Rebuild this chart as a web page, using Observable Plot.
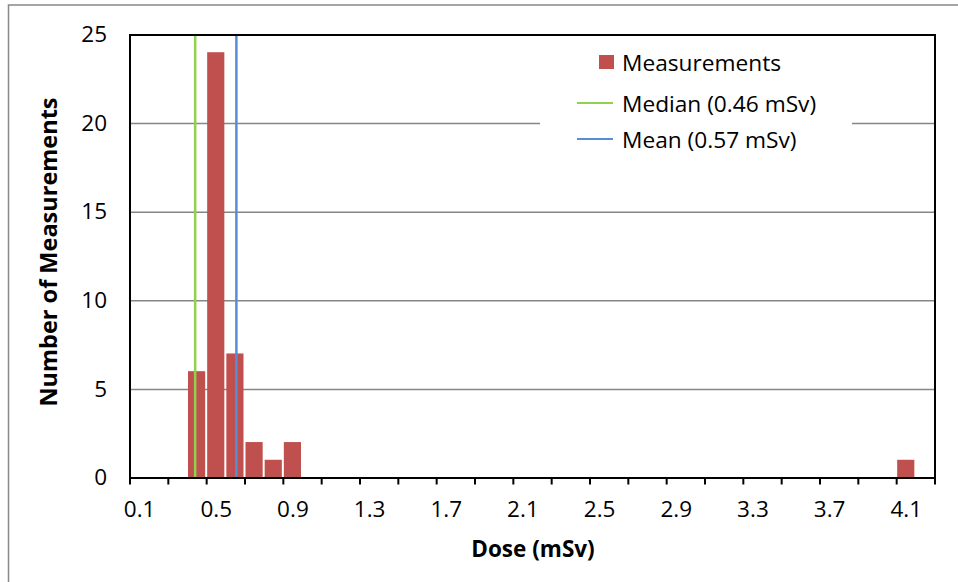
<!DOCTYPE html>
<html><head><meta charset="utf-8">
<script src="https://cdn.jsdelivr.net/npm/d3@7"></script>
<script src="https://cdn.jsdelivr.net/npm/@observablehq/plot@0.6"></script>
<style>body{margin:0;background:#fff} svg{display:block}</style>
</head><body><div id="chart"></div>
<script>
// Data
const doseBins = [0.4, 0.5, 0.6, 0.7, 0.8, 0.9, 4.1];
const counts = [6, 24, 7, 2, 1, 2, 1];
const xTickLabels = [0.1, 0.5, 0.9, 1.3, 1.7, 2.1, 2.5, 2.9, 3.3, 3.7, 4.1];
const yTicks = [0, 5, 10, 15, 20, 25];
const seriesNames = ["Measurements", "Median (0.46 mSv)", "Mean (0.57 mSv)"];
const refLinePositions = [0.39, 0.605]; // where the lines are drawn in the picture
const seriesColors = ["#C0504D", "#92D050", "#558ED5"];
const binWidth = 0.1;
const xDomain = [0.05, 4.25];
const tickBoundaries = d3.range(0, 22).map(i => +(xDomain[0] + 0.2 * i).toFixed(2));

const bars = doseBins.map((d, i) => ({dose: d, count: counts[i]}));
const refs = refLinePositions.map((p, i) => ({pos: p, name: seriesNames[i + 1], color: seriesColors[i + 1]}));

const FONT = "'Open Sans', Lato, sans-serif";

const chart = Plot.plot({
  width: 958, height: 582,
  marginLeft: 129.5, marginRight: 23.5, marginTop: 34.5, marginBottom: 104.5,
  style: {fontFamily: FONT, fontSize: "22.5px", color: "#000", background: "#fff", overflow: "visible"},
  x: {type: "linear", domain: xDomain},
  y: {domain: [0, 25]},
  marks: [
    Plot.gridY(yTicks.filter(d => d > 0 && d < 25), {stroke: "#868686", strokeOpacity: 1, strokeWidth: 1.5}),
    Plot.rectY(bars, {x1: d => d.dose - binWidth / 2, x2: d => d.dose + binWidth / 2, y: "count", fill: seriesColors[0], insetLeft: 1, insetRight: 1}),
    Plot.ruleX(refs, {x: "pos", stroke: "color", strokeWidth: 2.5}),
    Plot.frame({stroke: "#000", strokeWidth: 2}),
    Plot.axisY({ticks: yTicks, tickSize: 0, tickPadding: 23, label: null, tickFormat: d => String(d)}),
    Plot.axisX({ticks: tickBoundaries, tickSize: 7, tickFormat: () => "", label: null, strokeWidth: 2}),
    Plot.axisX({ticks: xTickLabels, tickSize: 0, tickPadding: 23, tickFormat: d => d.toFixed(1), label: null})
  ]
});

const svg = d3.select(chart);
// outer chart border (left and top edges visible)
svg.append("path").attr("d", "M8.5,582V5H958").attr("fill", "none").attr("stroke", "#888").attr("stroke-width", 1.5);

// axis titles
svg.append("text").text("Dose (mSv)")
  .attr("x", 533).attr("y", 548).attr("text-anchor", "middle").attr("dominant-baseline", "central")
  .attr("font-family", FONT).attr("font-weight", "bold").attr("font-size", 22.5);
svg.append("text").text("Number of Measurements")
  .attr("transform", "translate(48,252) rotate(-90)").attr("text-anchor", "middle").attr("dominant-baseline", "central")
  .attr("font-family", FONT).attr("font-weight", "bold").attr("font-size", 23.5);

// legend
const lg = svg.append("g").attr("font-family", FONT).attr("font-size", 22.7).attr("text-anchor", "start");
lg.append("rect").attr("x", 540).attr("y", 42).attr("width", 312).attr("height", 118).attr("fill", "#fff");
const rowsY = [62, 103, 139];
seriesNames.forEach((name, i) => {
  if (i === 0) {
    lg.append("rect").attr("x", 599).attr("y", rowsY[i] - 7).attr("width", 15).attr("height", 14).attr("fill", seriesColors[i]);
  } else {
    lg.append("line").attr("x1", 577).attr("x2", 613).attr("y1", rowsY[i]).attr("y2", rowsY[i]).attr("stroke", seriesColors[i]).attr("stroke-width", 2);
  }
  lg.append("text").text(name).attr("x", 622).attr("y", rowsY[i]).attr("dominant-baseline", "central");
});

document.getElementById("chart").appendChild(chart);
</script>
</body></html>
